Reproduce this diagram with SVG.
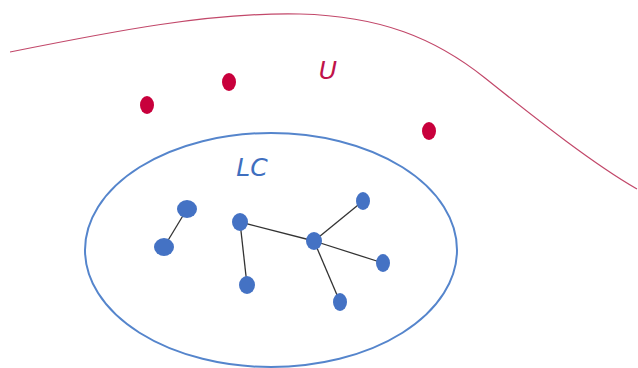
<svg xmlns="http://www.w3.org/2000/svg" width="638" height="368" viewBox="0 0 638 368">
<style>
.red{fill:#c8003c}
.blue{fill:#4472c4}
.edge{stroke:#333;stroke-width:1.3;fill:none}
.lbl{font-family:"DejaVu Sans",sans-serif;font-style:italic;font-size:25px}
</style>
<rect width="638" height="368" fill="#fff"/>
<path id="U-boundary" d="M10,52 C110,32 210,12 300,14 C380,16 435,38 485,78 C540,122 595,165 637,189" fill="none" stroke="#c2486a" stroke-width="1.2"/>
<text class="lbl" x="328" y="79" fill="#c0134a" text-anchor="middle">U</text>
<g id="u1"><ellipse class="red" cx="147" cy="105" rx="7" ry="9"/></g>
<g id="u2"><ellipse class="red" cx="229" cy="82" rx="7" ry="9"/></g>
<g id="u3"><ellipse class="red" cx="429" cy="131" rx="7" ry="9"/></g>
<g id="LC"><ellipse cx="271" cy="250" rx="186" ry="117" fill="none" stroke="#5585cc" stroke-width="2"/>
<text class="lbl" x="252" y="176" fill="#3f6fbf" text-anchor="middle">LC</text></g>
<g id="connectors">
<line class="edge" x1="187" y1="209" x2="164" y2="247"/>
<line class="edge" x1="240" y1="222" x2="314" y2="241"/>
<line class="edge" x1="240" y1="222" x2="247" y2="285"/>
<line class="edge" x1="314" y1="241" x2="363" y2="201"/>
<line class="edge" x1="314" y1="241" x2="383" y2="263"/>
<line class="edge" x1="314" y1="241" x2="340" y2="302"/>
</g>
<g id="a"><ellipse class="blue" cx="187" cy="209" rx="10" ry="9"/></g>
<g id="b"><ellipse class="blue" cx="164" cy="247" rx="10" ry="9"/></g>
<g id="c"><ellipse class="blue" cx="240" cy="222" rx="8" ry="9"/></g>
<g id="d"><ellipse class="blue" cx="247" cy="285" rx="8" ry="9"/></g>
<g id="e"><ellipse class="blue" cx="314" cy="241" rx="8" ry="9"/></g>
<g id="f"><ellipse class="blue" cx="363" cy="201" rx="7" ry="9"/></g>
<g id="g"><ellipse class="blue" cx="383" cy="263" rx="7" ry="9"/></g>
<g id="h"><ellipse class="blue" cx="340" cy="302" rx="7" ry="9"/></g>
</svg>
